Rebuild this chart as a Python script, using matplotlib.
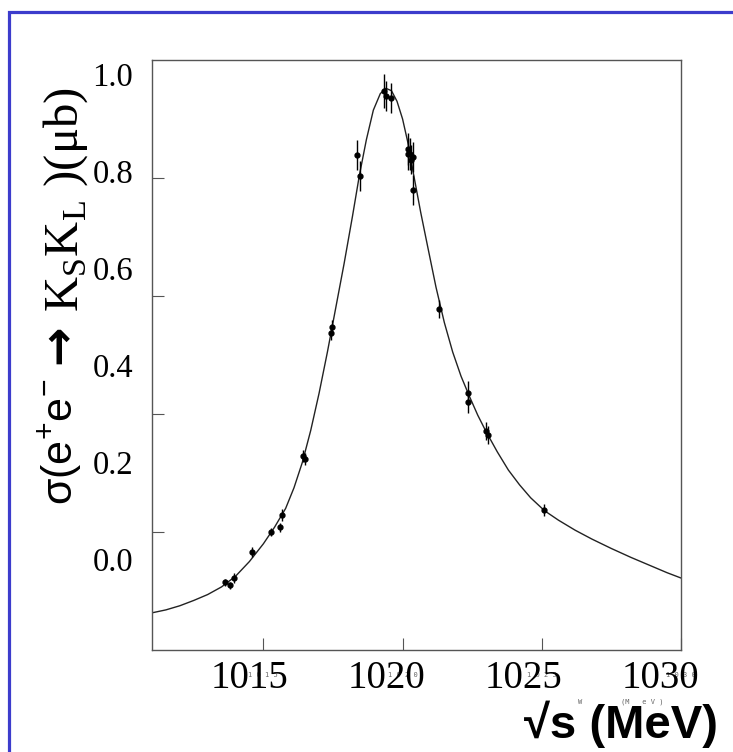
import matplotlib
matplotlib.use("Agg")
import matplotlib.pyplot as plt
from matplotlib.patches import Rectangle

# ---- data ----
pt_x = [1013.62, 1013.80, 1013.94, 1014.58, 1015.27, 1015.59, 1015.66, 1016.41, 1016.48,
        1017.42, 1017.45, 1018.38, 1018.46, 1019.35, 1019.39, 1019.60, 1020.18, 1020.21,
        1020.28, 1020.32, 1020.39, 1020.39, 1021.32, 1022.36, 1022.36, 1023.01, 1023.08,
        1025.09]
pt_y = [0.115, 0.110, 0.122, 0.166, 0.200, 0.208, 0.229, 0.329, 0.324,
        0.537, 0.547, 0.839, 0.803, 0.947, 0.939, 0.936, 0.841, 0.849,
        0.841, 0.831, 0.836, 0.780, 0.578, 0.436, 0.420, 0.371, 0.364,
        0.237]
pt_err = [0.006, 0.006, 0.008, 0.008, 0.007, 0.008, 0.010, 0.010, 0.010,
          0.012, 0.012, 0.025, 0.025, 0.029, 0.025, 0.025, 0.027, 0.027,
          0.027, 0.025, 0.025, 0.025, 0.016, 0.020, 0.018, 0.015, 0.015,
          0.010]

fit_x = [1011.0, 1011.5, 1012.0, 1012.5, 1013.0, 1013.5, 1014.0, 1014.5, 1015.0,
         1015.4, 1015.8, 1016.1, 1016.4, 1016.7, 1017.0, 1017.3, 1017.6, 1017.9,
         1018.2, 1018.45, 1018.7, 1018.95, 1019.2, 1019.4, 1019.6, 1019.8, 1020.0,
         1020.2, 1020.4, 1020.65, 1020.9, 1021.2, 1021.5, 1021.8, 1022.1, 1022.4,
         1022.7, 1023.0, 1023.4, 1023.8, 1024.2, 1024.6, 1025.1, 1025.6, 1026.2,
         1026.8, 1027.5, 1028.2, 1028.9, 1029.5, 1030.0]
fit_y = [0.063, 0.068, 0.075, 0.084, 0.094, 0.107, 0.125, 0.150, 0.180,
         0.208, 0.240, 0.275, 0.318, 0.372, 0.435, 0.505, 0.580, 0.655,
         0.735, 0.805, 0.865, 0.915, 0.943, 0.952, 0.948, 0.930, 0.900,
         0.858, 0.805, 0.742, 0.684, 0.615, 0.555, 0.505, 0.464, 0.430,
         0.398, 0.370, 0.336, 0.305, 0.280, 0.258, 0.236, 0.220, 0.203,
         0.188, 0.172, 0.157, 0.143, 0.131, 0.122]

main_xticks = [1015, 1020, 1025, 1030]
main_xticklabels = ["1 0 1 5", "1 0 2 0", "1 0 2 5", "1 0 3 0"]
main_yticks = [0.2, 0.4, 0.6, 0.8]
big_xticks = [1015, 1020, 1025, 1030]
big_xticklabels = ["1015", "1020", "1025", "1030"]
big_yticks = [0.0, 0.2, 0.4, 0.6, 0.8, 1.0]
big_yticklabels = ["0.0", "0.2", "0.4", "0.6", "0.8", "1.0"]

W, H = 733, 752
fig = plt.figure(figsize=(W / 100, H / 100), dpi=100)
fig.patch.set_facecolor("white")

# blue frame
fig.patches.append(Rectangle((9 / W, -0.2), 1.2, (H - 12) / H + 0.2, transform=fig.transFigure,
                             fill=False, edgecolor="#3c3ccc", linewidth=2.3))

L, R, T, B = 152, 681, 60, 650
ax = fig.add_axes([L / W, 1 - B / H, (R - L) / W, (B - T) / H])
ax.set_xlim(1011.0, 1030.0)
ax.set_ylim(0.0, 1.0)
for s in ax.spines.values():
    s.set_color("#555555")
    s.set_linewidth(1.0)

ax.plot(fit_x, fit_y, color="#222222", lw=1.0, zorder=2)
ax.errorbar(pt_x, pt_y, yerr=pt_err, fmt="o", ms=3.5, color="black", ecolor="black",
            elinewidth=1.0, capsize=0, zorder=3)

ax.set_xticks(main_xticks)
ax.set_xticklabels(main_xticklabels, family="DejaVu Sans Mono", fontsize=5, color="#666666")
ax.set_yticks(main_yticks)
ax.set_yticklabels([])
ax.tick_params(axis="both", direction="in", length=8.5, width=0.8, color="#555555")
ax.tick_params(axis="x", pad=16)

# overlay y labels
axy = ax.twinx()
axy.set_ylim(-0.1876, 1.0289)
axy.yaxis.tick_left()
axy.set_yticks(big_yticks)
axy.set_yticklabels(big_yticklabels, family="Liberation Serif", fontsize=23.5)
axy.tick_params(axis="y", length=0, pad=13.5)
for s in axy.spines.values():
    s.set_visible(False)

# overlay x labels
axx = ax.twiny()
axx.set_xlim(1011.42, 1030.77)
axx.xaxis.tick_bottom()
axx.set_xticks(big_xticks)
axx.set_xticklabels(big_xticklabels, family="Liberation Serif", fontsize=28)
axx.tick_params(axis="x", length=0, pad=7, labelbottom=True, labeltop=False)
for s in axx.spines.values():
    s.set_visible(False)

# y axis title, three pieces
plt.rcParams["mathtext.fontset"] = "custom"
plt.rcParams["mathtext.rm"] = "Liberation Serif"
plt.rcParams["mathtext.sf"] = "Liberation Sans"
fig.text(60.5 / W, 1 - 442 / H, r"σ(e$^{\mathsf{+}}$e$^{\mathsf{-}}$", rotation=90,
         ha="center", va="center", fontsize=31, family="Liberation Sans")
fig.text(60 / W, 1 - 344 / H, "→", rotation=90, ha="center", va="center",
         fontsize=34, family="DejaVu Sans", weight="bold")
fig.text(66 / W, 1 - 200 / H, r"K$_{\rm S}$K$_{\rm L}$ )(μb)", rotation=90,
         ha="center", va="center", fontsize=35, family="Liberation Serif")

# x axis title
fig.text(621 / W, 1 - 724 / H, "√s (MeV)", ha="center", va="center", fontsize=34,
         family=["Liberation Sans", "DejaVu Sans"], weight="bold")
fig.text(580 / W, 1 - 702 / H, "W", ha="center", va="center", fontsize=5,
         family="DejaVu Sans Mono", color="#666666")
fig.text(642 / W, 1 - 702 / H, "(M   e V )", ha="center", va="center", fontsize=5,
         family="DejaVu Sans Mono", color="#666666")

fig.savefig("out.png", dpi=100)
